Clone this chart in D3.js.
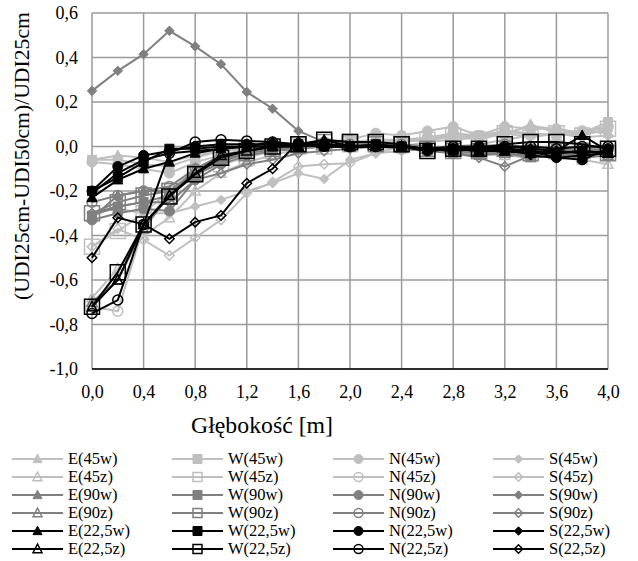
<!DOCTYPE html>
<html><head><meta charset="utf-8">
<script src="https://cdn.jsdelivr.net/npm/d3@7"></script>
<style>body{margin:0;background:#fff}svg{display:block}</style>
</head><body><svg id="c" width="638" height="561"></svg>
<script>
const depth = [0,0.2,0.4,0.6,0.8,1.0,1.2,1.4,1.6,1.8,2.0,2.2,2.4,2.6,2.8,3.0,3.2,3.4,3.6,3.8,4.0];
const xTicks = [0,0.4,0.8,1.2,1.6,2.0,2.4,2.8,3.2,3.6,4.0];
const yTicks = [0.6,0.4,0.2,0.0,-0.2,-0.4,-0.6,-0.8,-1.0];
const seriesNames = ["E(45w)","W(45w)","N(45w)","S(45w)","E(45z)","W(45z)","N(45z)","S(45z)",
  "E(90w)","W(90w)","N(90w)","S(90w)","E(90z)","W(90z)","N(90z)","S(90z)",
  "E(22,5w)","W(22,5w)","N(22,5w)","S(22,5w)","E(22,5z)","W(22,5z)","N(22,5z)","S(22,5z)"];
const E45w = [-0.06,-0.04,-0.05,-0.07,-0.04,-0.02,-0.01,0.0,0.01,0.01,0.01,0.02,0.02,0.03,0.04,0.05,0.05,0.10,0.06,0.07,0.06];
const W45w = [-0.06,-0.06,-0.08,-0.09,-0.05,-0.02,-0.01,0.0,0.0,0.01,0.02,0.03,0.03,0.03,0.06,0.05,0.07,0.06,0.05,0.06,0.11];
const N45w = [-0.07,-0.08,-0.10,-0.12,-0.07,-0.04,-0.01,0.0,0.01,0.02,0.03,0.06,0.05,0.07,0.09,0.05,0.09,0.08,0.08,0.06,0.09];
const S45w = [-0.30,-0.28,-0.30,-0.30,-0.27,-0.24,-0.20,-0.165,-0.12,-0.146,-0.06,-0.03,0.0,0.02,0.03,0.04,0.06,0.09,0.08,0.06,0.07];
const E45z = [-0.68,-0.55,-0.40,-0.32,-0.20,-0.12,-0.07,-0.04,-0.01,0.0,0.0,0.0,-0.01,-0.02,-0.02,-0.03,-0.04,-0.05,-0.04,-0.06,-0.08];
const W45z = [-0.45,-0.38,-0.30,-0.20,-0.12,-0.08,-0.05,-0.02,0.0,0.0,0.01,0.02,0.02,0.03,0.05,0.03,0.06,0.04,0.06,0.05,0.08];
const N45z = [-0.72,-0.74,-0.36,-0.20,-0.10,-0.05,-0.03,-0.01,0.0,0.01,0.01,0.02,0.03,0.04,0.06,0.04,0.07,0.05,0.06,0.07,0.09];
const S45z = [-0.45,-0.37,-0.42,-0.49,-0.41,-0.33,-0.21,-0.16,-0.09,-0.08,-0.075,-0.03,-0.02,-0.01,0.0,0.01,0.03,0.05,0.06,0.04,0.05];
const E90w = [-0.32,-0.22,-0.20,-0.20,-0.12,-0.06,-0.03,-0.01,0.0,0.0,0.0,0.0,-0.01,-0.02,-0.03,-0.04,-0.03,-0.05,-0.04,-0.03,-0.02];
const W90w = [-0.31,-0.27,-0.25,-0.22,-0.13,-0.07,-0.03,-0.01,0.0,0.0,0.0,0.0,0.0,-0.01,-0.02,-0.02,-0.03,-0.03,-0.02,-0.04,-0.03];
const N90w = [-0.33,-0.30,-0.28,-0.29,-0.15,-0.08,-0.04,-0.02,-0.01,0.0,0.0,0.01,0.0,0.0,-0.01,0.0,-0.02,-0.02,-0.01,-0.02,-0.01];
const S90w = [0.25,0.34,0.415,0.52,0.45,0.37,0.245,0.17,0.07,0.02,0.0,0.0,0.0,0.0,-0.01,-0.02,-0.03,-0.02,-0.02,-0.03,-0.02];
const E90z = [-0.70,-0.60,-0.37,-0.22,-0.10,-0.05,-0.02,-0.01,0.0,0.0,0.0,0.01,0.0,-0.01,-0.02,-0.03,-0.03,-0.04,-0.03,-0.05,-0.04];
const W90z = [-0.30,-0.25,-0.22,-0.20,-0.12,-0.05,-0.03,-0.01,0.01,0.02,0.02,0.01,0.01,-0.01,-0.02,-0.02,-0.01,-0.03,-0.02,-0.02,-0.03];
const N90z = [-0.25,-0.22,-0.20,-0.18,-0.10,-0.04,-0.02,0.0,0.01,0.02,0.01,0.0,0.01,0.0,-0.01,0.0,0.01,-0.01,0.0,-0.01,0.0];
const S90z = [-0.30,-0.27,-0.25,-0.25,-0.15,-0.12,-0.08,-0.06,-0.03,-0.02,-0.01,0.0,0.0,-0.01,-0.03,-0.05,-0.09,-0.04,-0.03,-0.02,-0.01];
const E225w = [-0.23,-0.15,-0.10,-0.07,-0.03,-0.01,0.0,0.02,0.0,0.03,0.0,0.0,0.0,-0.01,-0.02,-0.01,-0.02,-0.03,-0.02,0.05,-0.02];
const W225w = [-0.20,-0.14,-0.07,-0.01,-0.01,0.0,0.0,0.0,0.01,0.0,0.0,0.01,0.0,-0.01,-0.01,-0.02,-0.01,-0.02,-0.03,-0.02,-0.03];
const N225w = [-0.20,-0.09,-0.04,-0.02,0.0,0.01,0.01,0.01,0.01,0.0,0.0,0.0,0.0,-0.02,-0.01,0.0,-0.01,-0.02,-0.05,-0.06,-0.01];
const S225w = [-0.21,-0.12,-0.06,-0.03,-0.02,-0.01,0.0,0.0,0.0,0.01,0.0,0.0,0.0,-0.02,-0.01,-0.01,0.0,-0.04,-0.05,-0.04,-0.03];
const E225z = [-0.72,-0.60,-0.35,-0.22,-0.12,-0.04,-0.02,0.0,0.0,0.01,0.0,0.0,0.0,-0.01,-0.01,-0.02,-0.02,-0.03,-0.03,-0.02,-0.03];
const W225z = [-0.72,-0.565,-0.35,-0.225,-0.125,-0.05,-0.02,0.0,0.01,0.03,0.02,0.02,0.01,-0.02,-0.01,-0.01,0.01,0.02,0.02,0.01,-0.01];
const N225z = [-0.75,-0.69,-0.35,-0.03,0.02,0.03,0.025,0.02,0.01,0.01,0.0,0.0,0.0,-0.01,0.0,0.0,0.0,0.0,-0.01,0.0,0.0];
const S225z = [-0.50,-0.32,-0.35,-0.415,-0.34,-0.31,-0.165,-0.10,0.02,0.0,0.0,0.0,0.0,-0.01,-0.02,0.0,0.0,-0.01,-0.02,-0.03,-0.02];
const seriesValues = [E45w,W45w,N45w,S45w,E45z,W45z,N45z,S45z,E90w,W90w,N90w,S90w,E90z,W90z,N90z,S90z,E225w,W225w,N225w,S225w,E225z,W225z,N225z,S225z];

const FONT = "'Liberation Serif','Times New Roman',Times,Tinos,'Noto Serif','DejaVu Serif',FreeSerif,serif";
const svg = d3.select("#c");
const L=92,R=608,T=13,B=369;
const x = d3.scaleLinear().domain([0,4]).range([L,R]);
const y = d3.scaleLinear().domain([-1,0.6]).range([B,T]);
const fmt = d=>d3.format(".1f")(d).replace(".",",").replace("−","-");

// pick font size so a sample string reaches a target width (font fallback safe)
function fitSize(sample, target, base){
  const t = svg.append("text").attr("font-family",FONT).attr("font-size",base).text(sample);
  const w = t.node().getComputedTextLength(); t.remove();
  return w>0 ? base*target/w : base;
}
const tickFs = Math.min(18, fitSize("0,0",23,18));
const legFs = Math.min(18, fitSize("E(22,5w)",62,18));
const xtFs = fitSize("Głębokość [m]",142,22);
const ytFs = fitSize("(UDI25cm-UDI50cm)/UDI25cm",288,22);

const g = svg.append("g");
g.selectAll(".hg").data(yTicks).join("line").attr("x1",L).attr("x2",R).attr("y1",d=>y(d)).attr("y2",d=>y(d)).attr("stroke","#9a9a9a").attr("stroke-width",1.5);
g.selectAll(".vg").data(xTicks).join("line").attr("y1",T).attr("y2",B).attr("x1",d=>x(d)).attr("x2",d=>x(d)).attr("stroke","#9a9a9a").attr("stroke-width",1.5);
svg.append("line").attr("x1",L).attr("x2",R).attr("y1",B).attr("y2",B).attr("stroke","#000").attr("stroke-width",1.5);

const xa = svg.append("g").attr("transform",`translate(0,${B})`).call(d3.axisBottom(x).tickValues(xTicks).tickFormat(fmt).tickSize(0).tickPadding(16));
const ya = svg.append("g").attr("transform",`translate(${L},0)`).call(d3.axisLeft(y).tickValues(yTicks).tickFormat(fmt).tickSize(0).tickPadding(14));
[xa,ya].forEach(a=>{a.attr("font-family",FONT).attr("font-size",tickFs);a.select(".domain").remove();a.selectAll("text").attr("fill","#000");});

svg.append("text").attr("x",262).attr("y",433).attr("text-anchor","middle").attr("font-family",FONT).attr("font-size",xtFs).attr("fill","#000").text("Głębokość [m]");
svg.append("text").attr("transform","translate(29,156) rotate(-90)").attr("text-anchor","middle").attr("font-family",FONT).attr("font-size",ytFs).attr("fill","#000").text("(UDI25cm-UDI50cm)/UDI25cm");

function colorOf(n){ if(n.includes("22,5")) return "#000"; if(n.includes("90")) return "#808080"; return "#bfbfbf"; }
function hollow(n){ return n.includes("z)"); }
function shapeOf(n){ return n[0]; }
function markerPath(shape, s){
  const h=s/2;
  if(shape==="E"){ const hh=s*0.9; return `M0,${-hh*0.6}L${h},${hh*0.45}L${-h},${hh*0.45}Z`; }
  if(shape==="W") return `M${-h},${-h}H${h}V${h}H${-h}Z`;
  if(shape==="N") return `M${-h},0A${h},${h} 0 1,0 ${h},0A${h},${h} 0 1,0 ${-h},0Z`;
  return `M0,${-h*1.05}L${h*1.05},0L0,${h*1.05}L${-h*1.05},0Z`;
}
function plotSize(n){ const sh=shapeOf(n); if(sh==="W"&&hollow(n)) return 15; if(sh==="S") return 9; if(sh==="W") return 9; return 10; }

const line = d3.line().x(d=>x(d[0])).y(d=>y(d[1]));
seriesNames.forEach((n,i)=>{
  const pts = depth.map((d,j)=>[d,seriesValues[i][j]]);
  const c = colorOf(n);
  const sg = svg.append("g");
  sg.append("path").datum(pts).attr("d",line).attr("fill","none").attr("stroke",c).attr("stroke-width",2);
  sg.selectAll("path.m").data(pts).join("path").attr("class","m")
    .attr("transform",d=>`translate(${x(d[0])},${y(d[1])})`)
    .attr("d",markerPath(shapeOf(n),plotSize(n)))
    .attr("fill",hollow(n)?"none":c).attr("stroke",c).attr("stroke-width",hollow(n)?1.5:1);
});

const colX=[12,172,333,493], rowY0=459, rowDy=18;
seriesNames.forEach((n,i)=>{
  const col=i%4,row=Math.floor(i/4);
  const lx=colX[col], ly=rowY0+row*rowDy, c=colorOf(n);
  const lg=svg.append("g");
  lg.append("line").attr("x1",lx).attr("x2",lx+51).attr("y1",ly).attr("y2",ly).attr("stroke",c).attr("stroke-width",2);
  lg.append("path").attr("transform",`translate(${lx+25.5},${ly})`).attr("d",markerPath(shapeOf(n),shapeOf(n)==="S"?8:9))
    .attr("fill",hollow(n)?"none":c).attr("stroke",c).attr("stroke-width",hollow(n)?1.5:1);
  lg.append("text").attr("x",lx+56).attr("y",ly+0.33*legFs).attr("font-family",FONT).attr("font-size",legFs).attr("fill","#000").text(n);
});
</script></body></html>
